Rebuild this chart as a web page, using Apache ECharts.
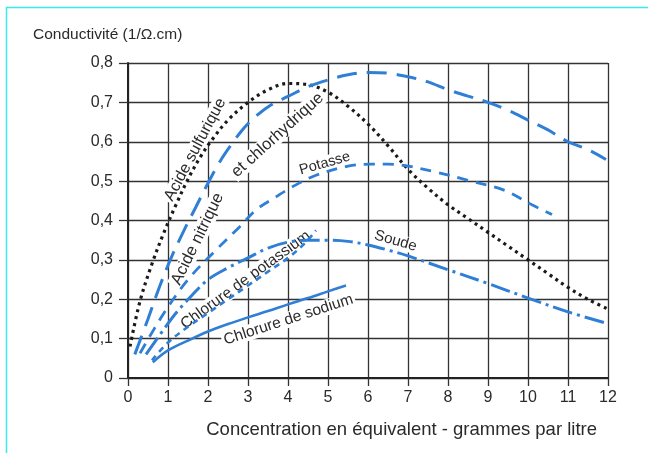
<!DOCTYPE html>
<html><head><meta charset="utf-8">
<script src="https://cdn.jsdelivr.net/npm/echarts@6/dist/echarts.min.js"></script>
<style>html,body{margin:0;padding:0;background:#fff}#c{width:648px;height:453px}</style>
</head><body><div id="c"></div>
<script>
// Data (concentration in eq-g/L, conductivity in 1/ohm.cm)
const sulfX = [0.05,0.3,0.6,0.9,1.2,1.5,1.8,2.1,2.5,3.0,3.5,4.0,4.5,5.0,5.5,6.0,6.5,7.0,7.5,8.0,8.5,9.0,9.5,10,10.5,11,11.5,12];
const sulfY = [0.08,0.195,0.29,0.37,0.44,0.505,0.56,0.605,0.655,0.70,0.732,0.748,0.745,0.726,0.69,0.645,0.59,0.53,0.482,0.44,0.405,0.37,0.335,0.30,0.265,0.23,0.2,0.175];
const nitrX = [0.17,0.5,0.8,1.1,1.4,1.7,2.0,2.3,2.6,2.9,3.2,3.6,4.0,4.5,5.0,5.5,6.0,6.5,7.0,7.5,8.0,8.5,9.0,9.5,10,10.5,11,11.5,11.95];
const nitrY = [0.06,0.15,0.235,0.31,0.375,0.435,0.495,0.55,0.595,0.635,0.665,0.695,0.715,0.74,0.757,0.77,0.776,0.774,0.765,0.752,0.732,0.716,0.70,0.68,0.655,0.63,0.60,0.58,0.555];
const potaX = [0.3,0.9,1.5,2.2,2.8,3.2,3.7,4.1,4.7,5.5,6.1,6.5,6.9,7.7,8.5,9.4,10.1,10.6];
const potaY = [0.063,0.165,0.25,0.325,0.385,0.427,0.46,0.485,0.515,0.538,0.543,0.543,0.54,0.523,0.502,0.477,0.44,0.415];
const soudX = [0.45,0.8,1.2,1.6,2.0,2.5,3.0,3.5,4.0,4.5,5.0,5.5,6.0,6.5,7.0,8.0,9.0,10,11,12];
const soudY = [0.06,0.11,0.165,0.21,0.25,0.28,0.305,0.33,0.345,0.35,0.35,0.347,0.338,0.325,0.31,0.275,0.24,0.203,0.168,0.138];
const kclX = [0.6,1.0,1.5,2.0,2.5,3.0,3.5,4.0,4.4,4.7];
const kclY = [0.045,0.09,0.13,0.165,0.2,0.235,0.27,0.305,0.34,0.375];
const naclX = [0.62,1.0,1.5,2.0,2.5,3.0,3.5,4.0,4.5,5.0,5.45];
const naclY = [0.04,0.07,0.095,0.118,0.137,0.154,0.17,0.187,0.203,0.22,0.235];
const xTicks = [0,1,2,3,4,5,6,7,8,9,10,11,12];
const yTicks = [0,0.1,0.2,0.3,0.4,0.5,0.6,0.7,0.8];
const yTitle = 'Conductivité (1/Ω.cm)';
const xTitle = 'Concentration en équivalent - grammes par litre';
// curve labels: text, data position, rotation (deg), font size
const labelTexts = ['Acide sulfurique','Acide nitrique','et chlorhydrique','Potasse','Soude','Chlorure de potassium','Chlorure de sodium'];
const labelX = [1.68,1.74,3.74,4.92,6.69,2.94,4.01];
const labelY = [0.58,0.353,0.617,0.545,0.348,0.249,0.148];
const labelRot = [62,64,42,16,-16,36,18];
const labelSize = [16,16.5,16.5,14.5,15,15.5,15.5];

const pair = (xs, ys) => xs.map((x, i) => [x, ys[i]]);
const blue = '#2f7fd6';
const FONT = '"Liberation Sans", Arial, sans-serif';
const chart = echarts.init(document.getElementById('c'), null, {renderer: 'canvas'});
const mk = (name, xs, ys, color, type, width) => ({
  name, type: 'line', data: pair(xs, ys), smooth: 0.35, showSymbol: false, symbol: 'none',
  lineStyle: {color, type, width, cap: 'butt'}, z: 3
});
chart.setOption({
  backgroundColor: '#fff',
  animation: false,
  grid: {left: 128, right: 40, top: 63, bottom: 75},
  xAxis: {
    type: 'value', min: 0, max: 12, interval: 1,
    axisLine: {show: true, onZero: false, lineStyle: {color: '#222', width: 2}},
    axisTick: {show: true, inside: false, length: 8, lineStyle: {color: '#333', width: 1.3}},
    axisLabel: {margin: 12, fontSize: 16, color: '#2a2a2a', fontFamily: FONT, formatter: v => xTicks.includes(v) ? String(v) : ''},
    splitLine: {show: true, lineStyle: {color: '#333', width: 1.3}}
  },
  yAxis: {
    type: 'value', min: 0, max: 0.8, interval: 0.1,
    axisLine: {show: true, onZero: false, lineStyle: {color: '#222', width: 2}},
    axisTick: {show: true, inside: false, length: 9, lineStyle: {color: '#333', width: 1.3}},
    axisLabel: {margin: 15, fontSize: 16, color: '#2a2a2a', fontFamily: FONT,
      formatter: v => { const t = yTicks.find(k => Math.abs(k - v) < 1e-6); return t === undefined ? '' : (t === 0 ? '0' : t.toFixed(1).replace('.', ',')); }},
    splitLine: {show: true, lineStyle: {color: '#333', width: 1.3}}
  },
  series: [
    mk('Acide sulfurique', sulfX, sulfY, '#1a1a1a', [3, 4], 3.2),
    mk('Acide nitrique et chlorhydrique', nitrX, nitrY, blue, [20, 10], 3),
    mk('Potasse', potaX, potaY, blue, [11, 8], 2.8),
    mk('Soude', soudX, soudY, blue, [20, 5, 3, 5], 3),
    mk('Chlorure de potassium', kclX, kclY, blue, [6, 5], 2.6),
    mk('Chlorure de sodium', naclX, naclY, blue, 'solid', 2.6)
  ]
});
const els = [];
labelTexts.forEach((t, i) => {
  const p = chart.convertToPixel({gridIndex: 0}, [labelX[i], labelY[i]]);
  els.push({type: 'text', x: p[0], y: p[1], rotation: labelRot[i] * Math.PI / 180, z: 1, silent: true,
    style: {text: t, font: labelSize[i] + 'px ' + FONT, fill: '#2a2a2a', align: 'center', verticalAlign: 'middle',
      backgroundColor: '#fff', padding: [0, 2]}});
});
els.push({type: 'text', x: 33, y: 35, z: 5, style: {text: yTitle, font: '15.5px ' + FONT, fill: '#2a2a2a', align: 'left', verticalAlign: 'middle'}});
els.push({type: 'text', x: 597, y: 430, z: 5, style: {text: xTitle, font: '18.5px ' + FONT, fill: '#2a2a2a', align: 'right', verticalAlign: 'middle'}});
els.push({type: 'line', z: 100, shape: {x1: 6, y1: 7.5, x2: 648, y2: 7.5}, style: {stroke: '#3ee8f0', lineWidth: 1.5}});
els.push({type: 'line', z: 100, shape: {x1: 6.5, y1: 7, x2: 6.5, y2: 453}, style: {stroke: '#3ee8f0', lineWidth: 1.5}});
chart.setOption({graphic: {elements: els}});
</script></body></html>
